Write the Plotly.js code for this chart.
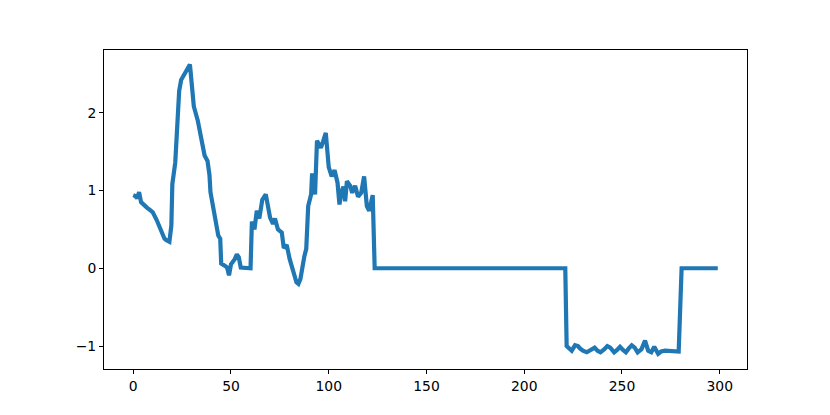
<!DOCTYPE html>
<html>
<head>
<meta charset="utf-8">
<script src="https://cdn.plot.ly/plotly-3.0.1.min.js"></script>
<style>
  html, body { margin: 0; padding: 0; background: #fff; }
  #plot { width: 830px; height: 415px; }
</style>
</head>
<body>
<div id="plot"></div>
<script>
// series (sample index, value)
const steps = [
  0, 1, 2, 3, 4, 5, 7, 9, 10, 12, 14, 16, 17, 18.5, 19.5, 20, 21.5, 22.5, 23.5, 24.5,
  26, 27.5, 29, 30, 31, 33, 34.5, 35.5, 36.5, 38, 39, 39.5, 40.5, 41.5, 42.5, 43.5, 44.5, 45,
  47, 48, 49, 50, 52, 53, 54, 55, 60, 60.7, 62, 63.2, 64.5, 66, 67.8, 69, 70, 71.5,
  72.5, 74, 76, 77, 78.5, 80, 82, 83.5, 84.5, 85.5, 87.5, 88.5, 89.5, 91, 91.5, 92.5,
  93, 94, 95, 96, 97, 98.5, 100, 101.5, 103, 104.5, 105.5, 106.5, 107.5, 108.4, 109.3,
  111, 112, 113.5, 115, 116.6, 118.1, 119.5, 120.7, 121.5, 122.5, 123.5,
  221, 221.7, 223, 224.3, 226, 227.5, 228.5, 230, 232, 234, 236, 237.5, 239, 241, 242.5,
  244, 246, 247.5, 249, 250.5, 252, 253.5, 255, 256.5, 258, 260, 261.8, 263.4, 265,
  266.5, 268.5, 270, 272, 279, 280.5, 299
];
const values = [
  0.94, 0.93, 0.90, 0.98, 0.85, 0.82, 0.78, 0.74, 0.72, 0.62, 0.50, 0.38, 0.36, 0.34, 0.55, 1.08, 1.36, 1.80, 2.28, 2.42,
  2.48, 2.55, 2.62, 2.35, 2.08, 1.90, 1.72, 1.62, 1.45, 1.38, 1.20, 0.98, 0.82, 0.74, 0.55, 0.42, 0.38, 0.06,
  0.03, 0.01, -0.09, 0.05, 0.12, 0.18, 0.14, 0.01, 0.0, 0.60, 0.50, 0.74, 0.64, 0.88, 0.95, 0.78, 0.65, 0.57,
  0.64, 0.50, 0.46, 0.26, 0.30, 0.12, -0.08, -0.18, -0.20, -0.14, 0.15, 0.25, 0.80, 0.95, 1.22, 1.00,
  0.95, 1.64, 1.60, 1.55, 1.62, 1.74, 1.30, 1.18, 1.26, 1.10, 0.82, 0.98, 1.05, 0.86, 1.12,
  1.06, 0.97, 1.06, 0.92, 0.97, 1.18, 0.80, 0.74, 0.83, 0.94, 0.0,
  0.0, -1.00, -1.03, -1.06, -0.99, -1.00, -1.03, -1.06, -1.08, -1.05, -1.02, -1.06, -1.08, -1.04, -1.00,
  -1.02, -1.08, -1.05, -1.01, -1.05, -1.08, -1.03, -0.99, -1.02, -1.08, -1.04, -0.93, -1.06, -1.08,
  -1.01, -1.10, -1.07, -1.06, -1.07, 0.0, 0.0
];
const xTicks = [0, 50, 100, 150, 200, 250, 300];
const yTicks = [-1, 0, 1, 2];

const tickFont = { family: "DejaVu Sans", size: 13.9, color: "#000" };

const axisBase = {
  showgrid: false,
  zeroline: false,
  showline: true,
  mirror: true,
  linecolor: "#000",
  linewidth: 1,
  ticks: "outside",
  ticklen: 4,
  tickwidth: 1,
  tickcolor: "#000",
  tickfont: tickFont,
  tickmode: "array",
};

const trace = {
  x: steps,
  y: values,
  mode: "lines",
  type: "scatter",
  line: { color: "#1f77b4", width: 4.2 },
  hoverinfo: "skip",
};

const layout = {
  width: 830,
  height: 415,
  margin: { l: 104, r: 83, t: 50, b: 46, pad: 0 },
  paper_bgcolor: "#fff",
  plot_bgcolor: "#fff",
  showlegend: false,
  xaxis: Object.assign({}, axisBase, {
    range: [-14.95, 313.95],
    tickvals: xTicks,
    ticktext: xTicks.map(String),
  }),
  yaxis: Object.assign({}, axisBase, {
    range: [-1.295, 2.806],
    tickvals: yTicks,
    ticktext: yTicks.map(v => (v < 0 ? "\u2212" + Math.abs(v) : String(v))),
  }),
};

Plotly.newPlot("plot", [trace], layout, { staticPlot: true });
</script>
</body>
</html>
